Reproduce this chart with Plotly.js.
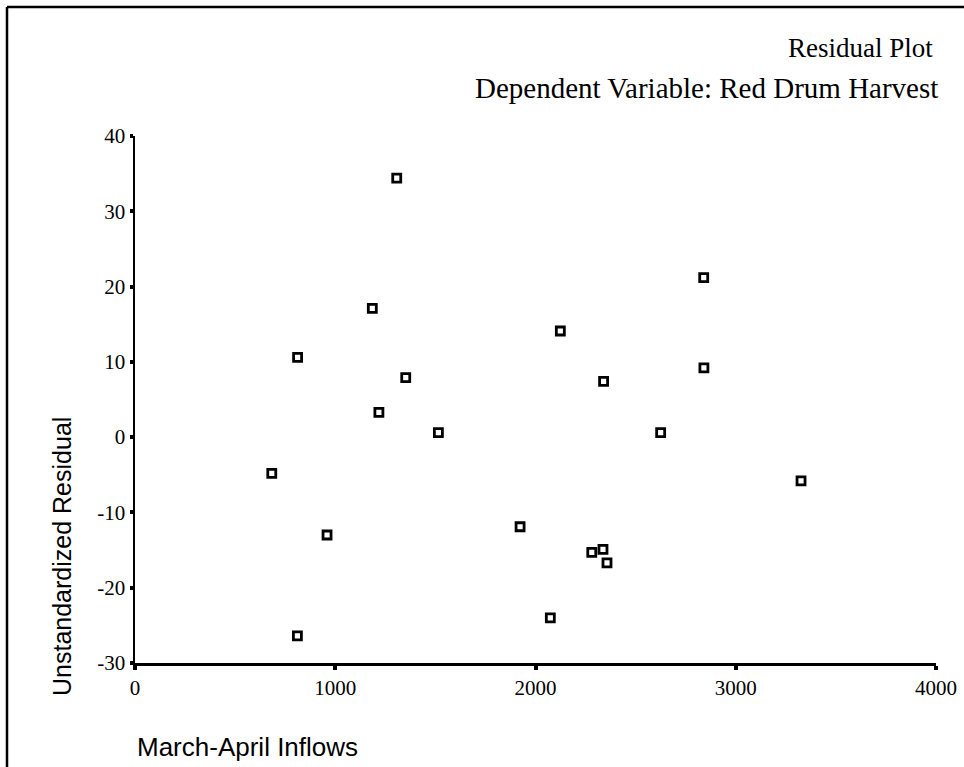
<!DOCTYPE html>
<html>
<head>
<meta charset="utf-8">
<script src="https://cdn.plot.ly/plotly-3.0.1.min.js"></script>
<style>html,body{margin:0;padding:0;background:#fff;}</style>
</head>
<body>
<div id="chart" style="width:964px;height:767px;"></div>
<script>
// March-April Inflows (x) and Unstandardized Residual (y)
const inflows = [1307, 1185, 812, 1352, 1218, 1515, 683, 959, 811, 2840, 2124, 2841, 2340, 2625, 1923, 2281, 2337, 2357, 2074, 3326];
const residuals = [34.4, 17.1, 10.6, 7.9, 3.3, 0.6, -4.8, -13.0, -26.4, 21.2, 14.1, 9.2, 7.4, 0.6, -11.9, -15.3, -14.9, -16.7, -24.0, -5.8];
const xTicks = [0, 1000, 2000, 3000, 4000];
const yTicks = [-30, -20, -10, 0, 10, 20, 30, 40];

const serif = "Liberation Serif, Times New Roman, serif";
const sans = "Liberation Sans, Arial, sans-serif";

const trace = {
  x: inflows, y: residuals, type: 'scatter', mode: 'markers',
  marker: {symbol: 'square-open', size: 8, color: '#000', line: {width: 2.8, color: '#000'}},
  hoverinfo: 'x+y'
};

const layout = {
  width: 964, height: 767,
  margin: {l: 135, r: 28, t: 136, b: 104},
  paper_bgcolor: '#fff', plot_bgcolor: '#fff',
  showlegend: false,
  xaxis: {
    range: [0, 4000], tickvals: xTicks, ticktext: xTicks.map(String),
    showgrid: false, zeroline: false, showline: true, linecolor: '#000', linewidth: 2.5,
    ticks: 'outside', ticklen: 4, tickwidth: 4, tickcolor: '#000',
    tickfont: {family: serif, size: 21, color: '#000'}
  },
  yaxis: {
    range: [-30, 40], tickvals: yTicks, ticktext: yTicks.map(String),
    showgrid: false, zeroline: false, showline: true, linecolor: '#000', linewidth: 2.5,
    ticks: 'outside', ticklen: 3, tickwidth: 4, tickcolor: '#000',
    ticklabelstandoff: 0,
    tickfont: {family: serif, size: 21, color: '#000'}
  },
  annotations: [
    {text: 'Residual Plot', xref: 'paper', yref: 'paper', x: 0.999, y: (663 - 48) / 527,
     xanchor: 'right', yanchor: 'middle', showarrow: false,
     font: {family: serif, size: 27, color: '#000'}},
    {text: 'Dependent Variable: Red Drum Harvest', xref: 'paper', yref: 'paper', x: 1.005, y: (663 - 88) / 527,
     xanchor: 'right', yanchor: 'middle', showarrow: false,
     font: {family: serif, size: 29, color: '#000'}},
    {text: 'Unstandardized Residual', xref: 'paper', yref: 'paper', x: (62 - 135) / 801, y: (663 - 557) / 527,
     xanchor: 'center', yanchor: 'middle', textangle: -90, showarrow: false,
     font: {family: sans, size: 25, color: '#000'}},
    {text: 'March-April Inflows', xref: 'paper', yref: 'paper', x: 0, y: (663 - 747) / 527,
     xanchor: 'left', yanchor: 'middle', showarrow: false,
     font: {family: sans, size: 26, color: '#000'}}
  ],
  shapes: [
    {type: 'line', xref: 'paper', yref: 'paper', x0: (7 - 135) / 801, x1: (964 - 135) / 801,
     y0: (663 - 7) / 527, y1: (663 - 7) / 527, line: {color: '#000', width: 2.5}},
    {type: 'line', xref: 'paper', yref: 'paper', x0: (7 - 135) / 801, x1: (7 - 135) / 801,
     y0: (663 - 7) / 527, y1: (663 - 767) / 527, line: {color: '#000', width: 2.5}}
  ]
};

Plotly.newPlot('chart', [trace], layout, {displayModeBar: false, staticPlot: true});
</script>
</body>
</html>
